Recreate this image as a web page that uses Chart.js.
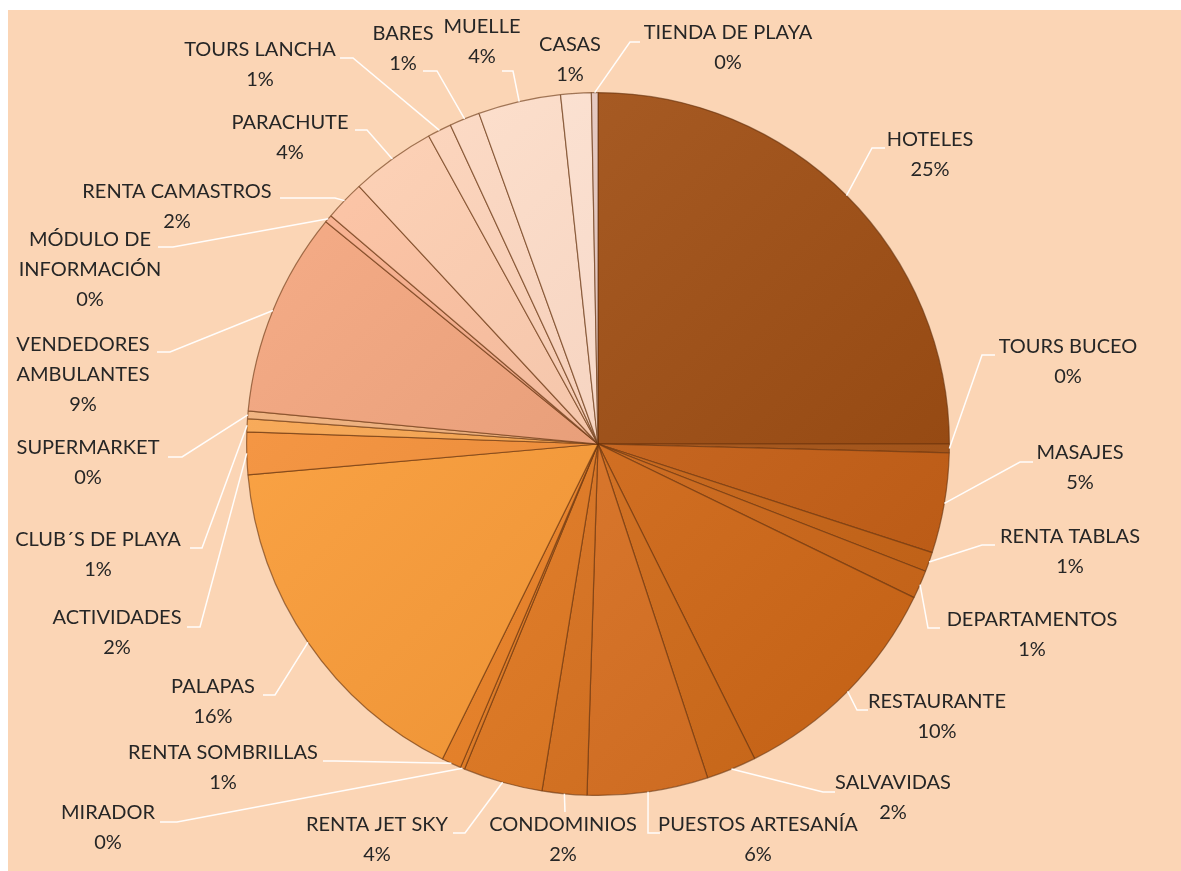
<!DOCTYPE html>
<html>
<head>
<meta charset="utf-8">
<script src="https://cdn.jsdelivr.net/npm/chart.js@4.4.1/dist/chart.umd.min.js"></script>
<style>
  html, body { margin: 0; padding: 0; background: #fff; }
  canvas { display: block; }
</style>
</head>
<body>
<canvas id="negociosChart" width="1181" height="871"></canvas>
<script>
/* ===============================
   DATA
   =============================== */
const categories = [
  "HOTELES", "TOURS BUCEO", "MASAJES", "RENTA TABLAS", "DEPARTAMENTOS",
  "RESTAURANTE", "SALVAVIDAS", "PUESTOS ARTESANÍA", "CONDOMINIOS", "RENTA JET SKY",
  "MIRADOR", "RENTA SOMBRILLAS", "PALAPAS", "ACTIVIDADES", "CLUB´S DE PLAYA",
  "SUPERMARKET", "VENDEDORES\nAMBULANTES", "MÓDULO DE\nINFORMACIÓN", "RENTA CAMASTROS", "PARACHUTE",
  "TOURS LANCHA", "BARES", "MUELLE", "CASAS", "TIENDA DE PLAYA"
];

const values = [
  25.0, 0.4, 4.6, 0.9, 1.3,
  10.45, 2.3, 5.55, 2.05, 3.65,
  0.2, 0.9, 16.3, 1.95, 0.6,
  0.35, 9.4, 0.35, 1.85, 3.9,
  1.1, 1.4, 3.8, 1.4, 0.3
];

const sliceColors = [
  "#9c5019", "#a85a20", "#c4641f", "#c86a20", "#cc6c22",
  "#cf6d21", "#d07023", "#d6742a", "#d67527", "#dc7a28",
  "#e07e2a", "#e5822c", "#f5983a", "#ea8c3a", "#eda050",
  "#e6aa78", "#e69d78", "#eaa585", "#f3b799", "#f8c3a8",
  "#f8c8b0", "#f9cdb8", "#fbd2bf", "#fcd6c6", "#dcc0b8"
];

/* label text centre (x, first line y), leader elbow (x, y) and leader end x */
const labelLayout = [
  [930, 140, 872, 148, 885],
  [1068, 347, 982, 355, 995],
  [1080, 453, 1020, 462, 1033],
  [1070, 537, 982, 545, 995],
  [1032, 620, 928, 628, 940],
  [937, 702, 857, 710, 868],
  [893, 783, 823, 792, 835],
  [758, 825, 648, 833, 660],
  [563, 825, 565, 812, 565],
  [377, 825, 465, 833, 453],
  [108, 813, 177, 822, 160],
  [223, 753, 335, 761, 323],
  [213, 687, 275, 695, 263],
  [117, 618, 200, 627, 187],
  [98, 540, 202, 548, 190],
  [88, 448, 182, 457, 168],
  [83, 345, 170, 352, 157],
  [90, 240, 173, 247, 158],
  [177, 192, 335, 198, 280],
  [290, 123, 367, 130, 355],
  [260, 50, 353, 58, 340],
  [403, 34, 437, 71, 423],
  [482, 27, 513, 71, 502],
  [570, 45, null, null, null],
  [728, 33, 630, 42, 640]
];

/* ===============================
   HELPERS
   =============================== */
function shade(hex, amt) {
  const n = parseInt(hex.slice(1), 16);
  let r = (n >> 16) & 255, g = (n >> 8) & 255, b = n & 255;
  r = Math.max(0, Math.min(255, Math.round(r + amt)));
  g = Math.max(0, Math.min(255, Math.round(g + amt)));
  b = Math.max(0, Math.min(255, Math.round(b + amt)));
  return `rgb(${r},${g},${b})`;
}

function sliceFill(context) {
  const base = sliceColors[context.dataIndex];
  const area = context.chart.chartArea;
  if (!area) return base;
  const g = context.chart.ctx.createLinearGradient(area.left, area.top, area.right, area.bottom);
  g.addColorStop(0, shade(base, 18));
  g.addColorStop(1, shade(base, -14));
  return g;
}

/* ===============================
   PLUGINS
   =============================== */
const backgroundPlugin = {
  id: "peachBackground",
  beforeDraw(chart) {
    const c = chart.ctx;
    c.save();
    c.fillStyle = "#ffffff";
    c.fillRect(0, 0, chart.width, chart.height);
    c.fillStyle = "#fbd5b5";
    c.fillRect(8, 10, chart.width - 8, chart.height - 10);
    c.restore();
  }
};

const total = values.reduce((a, b) => a + b, 0);

const leaderLabelPlugin = {
  id: "leaderLabels",
  afterDatasetsDraw(chart) {
    const c = chart.ctx;
    const arcs = chart.getDatasetMeta(0).data;
    c.save();

    arcs.forEach((arc, i) => {
      const p = arc.getProps(["x", "y", "startAngle", "endAngle", "outerRadius"], true);
      const mid = (p.startAngle + p.endAngle) / 2;
      const sx = p.x + Math.cos(mid) * p.outerRadius;
      const sy = p.y + Math.sin(mid) * p.outerRadius;
      const [tx, ty, ex, ey, fx] = labelLayout[i];

      if (ex !== null) {
        c.strokeStyle = "rgba(255,255,255,0.95)";
        c.lineWidth = 1.5;
        c.beginPath();
        c.moveTo(sx, sy);
        c.lineTo(ex, ey);
        c.lineTo(fx, ey);
        c.stroke();
      }

      const pct = Math.round(values[i] / total * 100) + "%";
      const lines = categories[i].split("\n").concat(pct);
      c.fillStyle = "#262626";
      c.font = "20px Lato";
      c.textAlign = "center";
      c.textBaseline = "middle";
      lines.forEach((t, k) => c.fillText(t, tx, ty + k * 30));
    });

    c.restore();
  }
};

/* ===============================
   CHART
   =============================== */
new Chart(document.getElementById("negociosChart").getContext("2d"), {
  type: "pie",
  data: {
    labels: categories,
    datasets: [{
      data: values,
      backgroundColor: sliceFill,
      borderColor: "rgba(100,48,12,0.6)",
      borderWidth: 1.2
    }]
  },
  options: {
    responsive: false,
    animation: false,
    layout: {
      padding: { left: 246, right: 231, top: 92, bottom: 75 }
    },
    plugins: {
      legend: { display: false },
      tooltip: { enabled: false }
    }
  },
  plugins: [backgroundPlugin, leaderLabelPlugin]
});
</script>
</body>
</html>
